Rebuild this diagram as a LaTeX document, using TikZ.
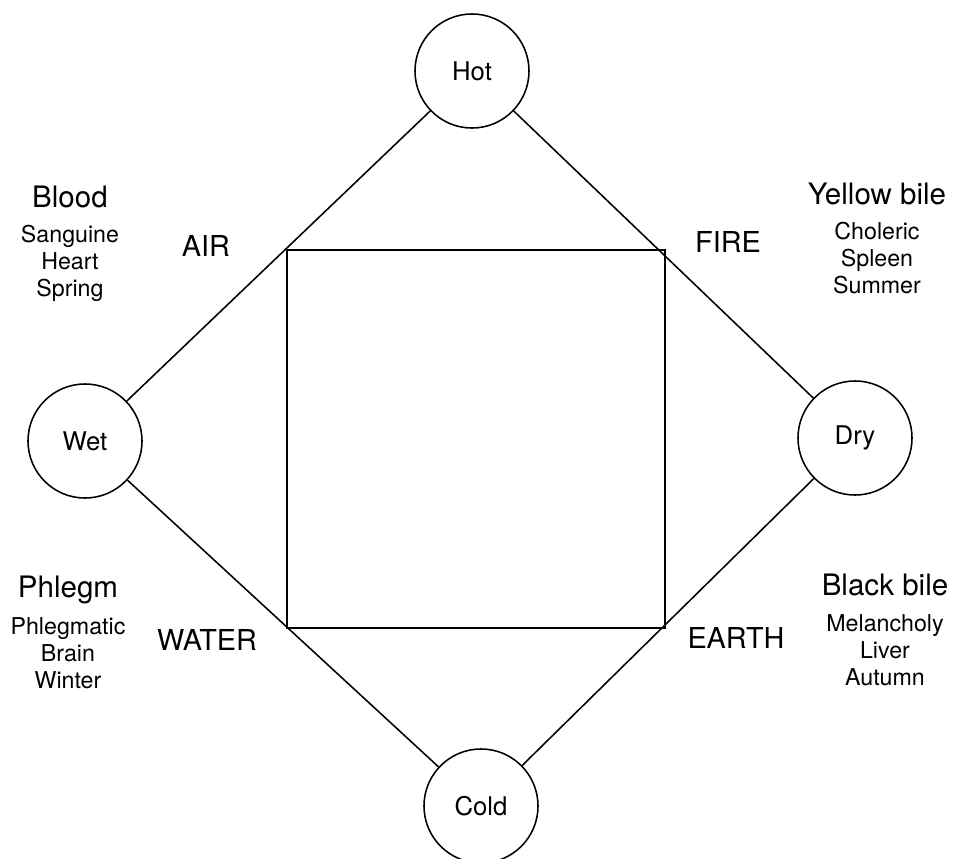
\documentclass[tikz,border=0pt]{standalone}
\usepackage{fontspec}
\setmainfont{TeX Gyre Heros}
\usetikzlibrary{positioning}

\begin{document}
\begin{tikzpicture}[
        x=0.025cm, y=-0.025cm,
        line width=1.1pt,
        quality/.style={circle, draw, minimum size=2.85cm, inner sep=0pt, font=\fontsize{18.3}{22}\selectfont},
        element/.style={inner sep=0pt, font=\fontsize{20.5}{24}\selectfont},
        humour/.style={align=center, anchor=base, inner sep=0pt, font=\fontsize{16.5}{19.2}\selectfont}
    ]
        \useasboundingbox (0,0) rectangle (956,858);

        % the four qualities
        \node[quality] (hot) at (472,71) {Hot};
        \node[quality] (wet) at (85,441) {Wet};
        \node[quality] (dry) at (855,438) {Dry};
        \node[quality] (cold) at (481,806) {Cold};

        \draw (hot) -- (wet);
        \draw (hot) -- (dry);
        \draw (wet) -- (cold);
        \draw (dry) -- (cold);

        % inner square
        \coordinate (nw) at (287,250);
        \coordinate (ne) at (665,250);
        \coordinate (se) at (665,628);
        \coordinate (sw) at (287,628);
        \draw (nw) -- (ne) -- (se) -- (sw) -- cycle;

        % elements
        \node[element] (air) at (206,246) {AIR};
        \node[element] (fire) at (728,242) {FIRE};
        \node[element] (water) at (207,640) {WATER};
        \node[element] (earth) at (736,638) {EARTH};

        % humours (anchored at the last line)
        \node[humour] (blood) at (70,296) {{\fontsize{21}{25}\selectfont Blood}\\[5pt]Sanguine\\Heart\\Spring};
        \node[humour] (yellow) at (877,293) {{\fontsize{21}{25}\selectfont Yellow bile}\\[5pt]Choleric\\Spleen\\Summer};
        \node[humour] (phlegm) at (68,688) {{\fontsize{21}{25}\selectfont Phlegm}\\[7pt]Phlegmatic\\Brain\\Winter};
        \node[humour] (black) at (885,685) {{\fontsize{21}{25}\selectfont Black bile}\\[6pt]Melancholy\\Liver\\Autumn};
    \end{tikzpicture}
\end{document}
